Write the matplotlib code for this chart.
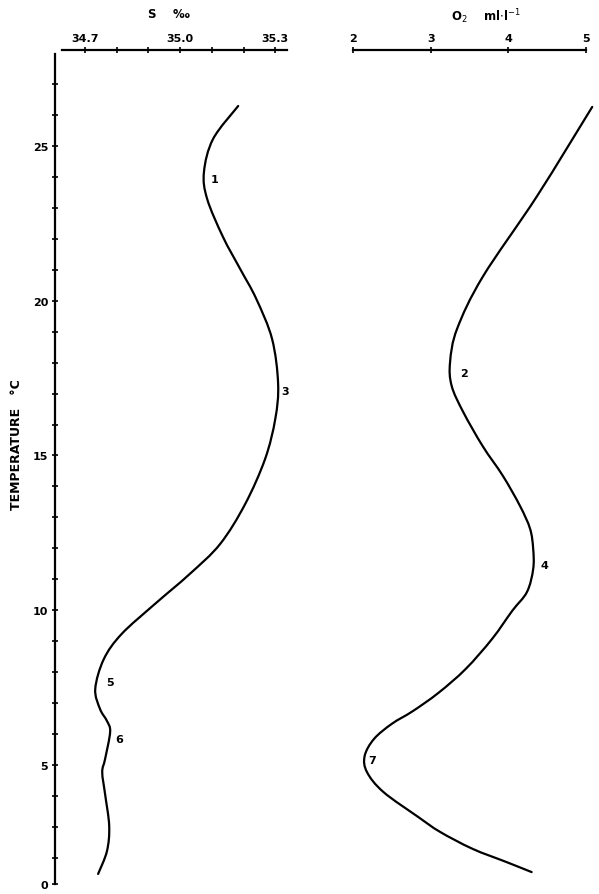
import matplotlib
matplotlib.use("Agg")
import matplotlib.pyplot as plt
from matplotlib.path import Path
from matplotlib.patches import PathPatch
import numpy as np

# salinity profile (S per mille vs temperature)
sal_temp = [26.29, 25.23, 24.16, 23.29, 22.06, 21.03, 20.06, 18.76, 17.31, 16.18,
            14.89, 13.43, 12.14, 11.17, 10.2, 9.23, 8.42, 7.46, 6.81, 6.42,
            6.07, 5.19, 4.77, 4.06, 3.03, 2.22, 1.48]
sal_vals = [35.183, 35.104, 35.075, 35.085, 35.135, 35.189, 35.24, 35.29, 35.309, 35.30,
            35.268, 35.205, 35.126, 35.03, 34.92, 34.815, 34.759, 34.732, 34.747, 34.769,
            34.779, 34.763, 34.754, 34.763, 34.776, 34.769, 34.741]

# oxygen profile (ml/l vs temperature)
oxy_temp = [26.26, 23.38, 20.77, 19.09, 18.02, 17.25, 16.4, 15.3, 14.34, 13.37,
            12.63, 11.98, 11.33, 10.59, 9.98, 9.07, 8.1, 7.33, 6.74, 6.33,
            5.84, 5.29, 4.77, 4.13, 3.32, 2.84, 2.29, 1.87, 1.54]
oxy_vals = [5.08, 4.37, 3.67, 3.34, 3.25, 3.27, 3.42, 3.67, 3.93, 4.15,
            4.28, 4.32, 4.32, 4.24, 4.05, 3.79, 3.45, 3.10, 2.77, 2.50,
            2.27, 2.15, 2.18, 2.39, 2.84, 3.12, 3.54, 3.97, 4.30]

sal_marks = [("1", 35.107, 23.93), ("3", 35.33, 17.08), ("5", 34.779, 7.68), ("6", 34.807, 5.84)]
oxy_marks = [("2", 3.43, 17.66), ("4", 4.47, 11.46), ("7", 2.25, 5.16)]

temp_ticks = [1.155, 5, 10, 15, 20, 25]
temp_labels = ["0", "5", "10", "15", "20", "25"]
sal_ticks = [34.7, 35.0, 35.3]
oxy_ticks = [2, 3, 4, 5]

W, H = 599, 895
fig = plt.figure(figsize=(W / 100, H / 100), dpi=100)
ylo, yhi = 1.155, 27.97

def px_axes(x0, x1, y0, y1):
    return fig.add_axes([x0 / W, 1 - y1 / H, (x1 - x0) / W, (y1 - y0) / H])

def smooth_line(ax, xs, ys):
    # hand-drawn look: cubic bezier path through the read points
    p = np.column_stack([xs, ys])
    disp = ax.transData.transform(p)
    verts = [tuple(disp[0])]
    codes = [Path.MOVETO]
    n = len(disp)
    for i in range(n - 1):
        p0 = disp[max(i - 1, 0)]
        p1 = disp[i]
        p2 = disp[i + 1]
        p3 = disp[min(i + 2, n - 1)]
        c1 = p1 + (p2 - p0) / 6.0
        c2 = p2 - (p3 - p1) / 6.0
        verts += [tuple(c1), tuple(c2), tuple(p2)]
        codes += [Path.CURVE4] * 3
    path = Path(ax.transData.inverted().transform(verts), codes)
    ax.add_patch(PathPatch(path, fill=False, lw=1.6, color="black",
                           capstyle="round", joinstyle="round", clip_on=False))

tf = dict(fontsize=8, fontweight="bold")

# left panel: salinity
ax1 = px_axes(55, 287, 55, 885)
ax1.set_xlim(34.605, 35.337)
ax1.set_ylim(ylo, yhi)
smooth_line(ax1, sal_vals, sal_temp)
ax1.spines["right"].set_visible(False)
ax1.spines["bottom"].set_visible(False)
ax1.spines["left"].set_linewidth(1.6)
ax1.spines["top"].set_linewidth(1.6)
ax1.spines["top"].set_position(("outward", 3))
ax1.spines["top"].set_bounds(34.627, 35.337)
ax1.xaxis.tick_top()
ax1.set_xticks(sal_ticks)
ax1.set_xticklabels(["34.7", "35.0", "35.3"], **tf)
ax1.set_xticks(np.arange(34.8, 35.25, 0.1), minor=True)
ax1.set_yticks(temp_ticks)
ax1.set_yticklabels(temp_labels, **tf)
ax1.set_yticks(range(2, 28), minor=True)
ax1.tick_params(axis="both", which="both", direction="inout", length=4, width=1.2, pad=3)
ax1.set_ylabel("TEMPERATURE   °C", fontsize=9, fontweight="bold")
ax1.yaxis.set_label_coords(-0.14, 0.53)
ax1.set_title("S    ‰", fontsize=8.5, fontweight="bold", pad=27, x=0.49)
for txt, s, t in sal_marks:
    ax1.text(s, t, txt, fontsize=8, fontweight="bold", ha="center", va="center")

# right panel: oxygen
ax2 = px_axes(353, 586, 55, 885)
ax2.set_xlim(2, 5)
ax2.set_ylim(ylo, yhi)
smooth_line(ax2, oxy_vals, oxy_temp)
for side in ["left", "right", "bottom"]:
    ax2.spines[side].set_visible(False)
ax2.spines["top"].set_linewidth(1.6)
ax2.spines["top"].set_position(("outward", 3))
ax2.xaxis.tick_top()
ax2.set_xticks(oxy_ticks)
ax2.set_xticklabels([str(v) for v in oxy_ticks], **tf)
ax2.set_yticks([])
ax2.tick_params(axis="x", direction="inout", length=4, width=1.2, pad=3)
ax2.set_title("O$_2$    ml$\\cdot$l$^{-1}$", fontsize=8.5, fontweight="bold", pad=24, x=0.57)
for txt, o, t in oxy_marks:
    ax2.text(o, t, txt, fontsize=8, fontweight="bold", ha="center", va="center")

fig.savefig("out.png", dpi=100)
